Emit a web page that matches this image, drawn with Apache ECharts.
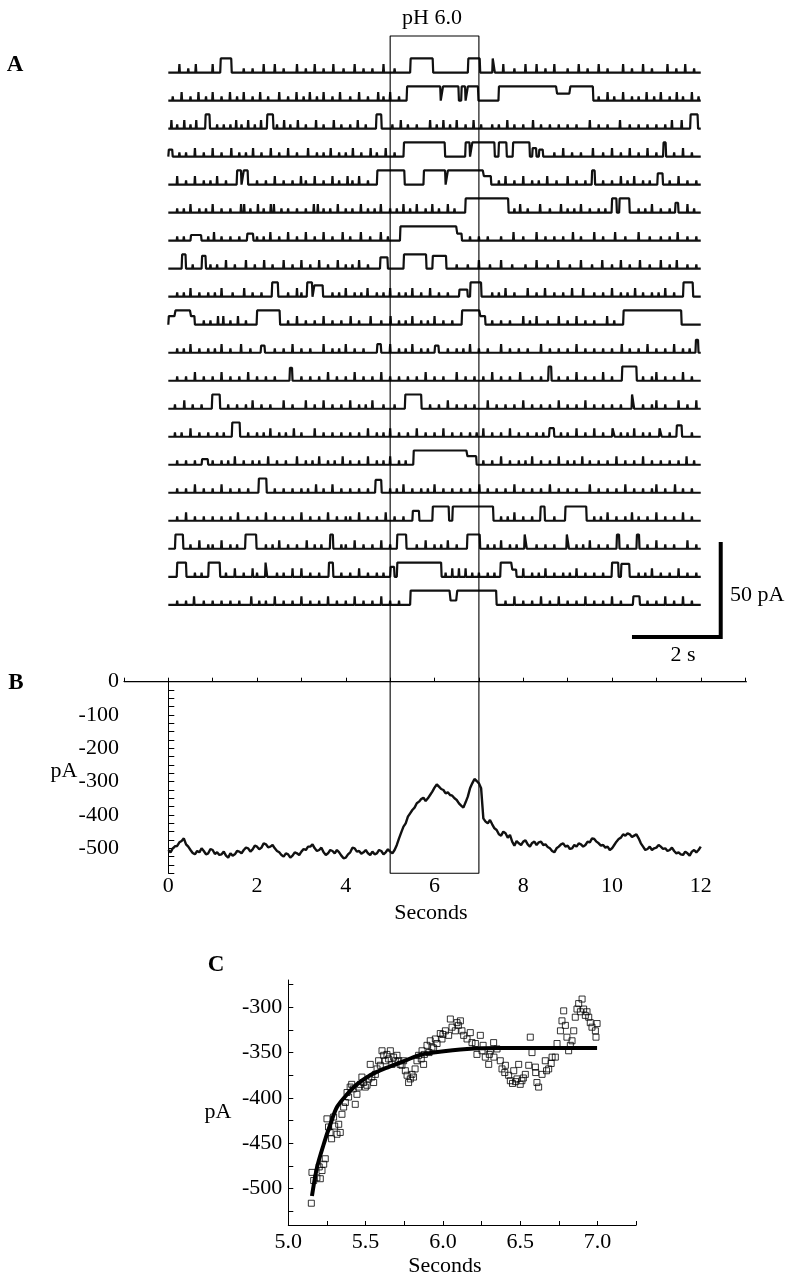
<!DOCTYPE html>
<html><head><meta charset="utf-8">
<script src="https://cdn.jsdelivr.net/npm/echarts@6/dist/echarts.min.js"></script>
<style>html,body{margin:0;padding:0;background:#fff}#c{width:793px;height:1280px}</style>
</head><body><div id="c"></div>
<script>
// ---------- Panel A: 20 single-channel sweeps ----------
// openings: [start (s), end (s), fraction of unitary current]
const sweepOpenings = [
  [[1.17,1.43,1],[5.45,5.97,1],[6.75,7.03,1],[7.3,7.36,1]],
  [[5.37,6.14,1],[6.18,6.55,1],[6.6,6.7,1],[6.74,6.99,1],[7.44,8.75,1],[8.75,9.05,0.5],[9.05,9.58,1]],
  [[0.83,0.94,1],[2.22,2.37,1],[4.68,4.81,1],[11.76,11.94,1]],
  [[0,0.1,0.5],[5.3,6.24,1],[6.69,6.8,1],[6.84,7.36,1],[7.44,7.63,1],[7.76,8.15,1],[8.2,8.3,0.6],[8.35,8.45,0.5],[11.15,11.22,1]],
  [[1.54,1.65,1],[1.69,1.8,1],[4.7,5.33,1],[5.75,6.25,1],[6.29,7.1,1],[7.1,7.28,0.6],[9.54,9.62,1],[11.02,11.15,0.8]],
  [[6.69,7.67,1],[9.99,10.11,1],[10.16,10.4,1],[11.42,11.5,0.7]],
  [[0.5,0.75,0.4],[1.77,1.92,0.5],[5.22,6.5,1],[6.5,6.62,0.5]],
  [[0.3,0.4,1],[0.75,0.85,0.9],[4.77,4.95,0.8],[5.3,5.82,1],[5.95,6.27,0.9]],
  [[2.33,2.48,1],[3.12,3.25,1],[3.28,3.49,0.8],[6.55,6.75,0.5],[6.8,7.06,1],[11.6,11.83,1]],
  [[0,0.15,0.6],[0.15,0.5,1],[0.5,0.6,0.6],[1.99,2.52,1],[6.61,7.02,1],[7.02,7.15,0.6],[10.25,11.57,1]],
  [[2.08,2.18,0.5],[4.7,4.8,0.6],[6.0,6.1,0.5],[11.88,11.95,0.9]],
  [[2.73,2.8,0.9],[8.56,8.64,1],[10.22,10.56,1]],
  [[0.98,1.17,1],[5.33,5.71,1],[10.44,10.5,1]],
  [[1.43,1.62,1],[8.58,8.7,0.6],[10.0,10.06,0.6],[11.06,11.12,0.6],[11.45,11.58,0.8]],
  [[0.75,0.9,0.4],[5.52,6.73,1],[6.73,6.95,0.6]],
  [[2.03,2.22,1],[4.66,4.81,0.9]],
  [[5.5,5.66,0.7],[5.95,6.33,1],[6.4,7.33,1],[8.38,8.49,1],[8.94,9.43,1]],
  [[0.15,0.34,1],[1.73,1.99,1],[3.64,3.72,1],[5.15,5.37,1],[6.73,7.03,1],[8.02,8.08,1],[8.97,9.03,1],[10.1,10.17,1],[10.55,10.62,1]],
  [[0.19,0.41,1],[0.9,1.17,1],[2.18,2.23,1],[3.61,3.72,1],[5.0,5.1,0.7],[5.15,6.16,1],[7.48,7.74,1],[7.74,7.85,0.5],[9.99,10.15,1],[10.2,10.4,0.9]],
  [[5.45,6.35,1],[6.35,6.5,0.3],[6.5,7.4,1],[10.47,10.63,0.6]]
];
// tall brief flickers (s)
const sweepSpikes = [
  [0.25,0.62,1.0,2.15,2.4,2.9,3.3,3.72,4.2,4.85,7.55,8.05,8.3,8.7,9.25,9.7,10.25,10.7,11.25,11.65],
  [0.3,0.68,1.0,1.39,1.7,2.07,2.5,2.89,3.19,3.5,3.87,4.3,4.73,5.0,9.9,10.25,10.78,11.1,11.46,11.8],
  [0.07,0.36,0.63,1.53,1.8,2.09,2.61,2.92,3.33,3.73,4.27,5.24,5.9,6.2,6.5,6.88,7.64,8.22,9.5,10.18,11.35,11.57],
  [0.6,1.0,1.42,1.91,2.31,2.7,3.15,3.66,4.16,4.56,4.9,8.9,9.57,10.0,10.4,10.8,11.6],
  [0.2,0.6,1.1,2.4,2.99,3.3,3.7,4.04,4.3,7.6,8.0,8.54,9.0,10.2,10.5,11.5],
  [0.5,1.0,1.64,1.71,2.02,2.31,2.38,3.28,3.37,3.82,4.34,4.79,5.3,5.6,5.95,6.3,7.93,8.38,8.85,9.3,10.9,11.7],
  [1.03,2.3,2.7,3.1,3.5,3.93,4.34,4.79,7.78,8.3,9.12,9.6,10.07,10.6,11.48],
  [1.3,1.75,2.16,2.6,3.0,3.4,3.82,4.3,7.0,7.5,8.3,8.79,9.3,9.78,10.2,10.63,11.1,11.46],
  [0.5,1.2,1.71,2.9,4.0,4.49,5.0,5.5,5.9,7.6,8.1,8.49,9.1,9.35,10.0,10.52,11.2],
  [1.12,1.24,1.57,2.9,3.5,4.11,4.56,5.01,5.5,6.0,8.0,8.3,8.8,9.2,9.89],
  [0.5,1.2,1.64,2.8,3.5,4.0,5.0,5.5,6.8,7.5,8.4,9.2,10.22,10.8,11.4],
  [0.6,1.2,1.8,3.6,4.2,4.8,5.8,6.5,7.3,7.93,9.2,9.8,11.0,11.6],
  [0.36,1.9,2.6,3.1,3.5,4.1,4.6,6.3,7.2,8.0,8.8,9.4,11.0,11.5,11.9],
  [0.5,2.3,2.83,3.3,4.5,5.0,5.6,6.2,7.1,7.7,9.2,9.6,10.5],
  [1.5,2.25,2.9,3.4,3.93,4.5,5.0,7.5,8.2,8.8,9.33,10.1,10.7,11.68],
  [0.6,1.2,3.33,3.7,5.3,6.0,7.01,7.8,8.6,9.5,10.3,11.0,11.42],
  [0.4,1.57,2.2,3.0,3.6,4.3,4.9,7.8,9.9,10.45,11.0,11.6],
  [0.7,1.2,2.5,3.12,4.2,4.8,5.8,6.3,7.5,9.5,11.0,11.7],
  [1.5,1.9,2.8,3.0,4.3,6.4,6.55,6.7,8.0,8.5,9.2,10.9,11.5],
  [0.58,1.87,2.4,3.0,3.6,4.2,4.8,7.8,8.4,8.8,9.4,10.0,11.2,11.6]
];
// small flickers (s)
const sweepFlickers = [
  [0.45,1.7,1.9,2.6,3.1,3.5,3.95,4.4,4.6,5.1,7.8,8.5,9.0,9.45,9.9,10.45,10.9,11.45,11.85],
  [0.1,0.5,0.85,1.2,1.55,1.9,2.25,2.7,3.05,3.35,3.7,4.1,4.5,4.85,5.2,9.7,10.05,10.45,10.6,10.95,11.3,11.6,11.95],
  [0.2,0.5,1.1,1.25,1.4,1.65,1.95,2.45,2.75,3.1,3.5,3.9,4.1,4.45,5.05,5.4,5.6,6.05,6.35,6.7,7.05,7.3,7.45,7.8,8.0,8.4,8.6,8.8,9.0,9.2,9.7,9.9,10.4,10.6,10.8,11.0,11.2],
  [0.25,0.4,0.8,1.2,1.6,1.75,2.1,2.5,2.9,3.35,3.5,3.85,4.0,4.35,4.7,5.1,8.7,9.1,9.3,9.8,10.2,10.6,11.0,11.4,11.8],
  [0.4,0.8,0.95,1.3,2.0,2.2,2.6,2.8,3.1,3.5,3.85,4.15,4.5,7.45,7.8,8.2,8.35,8.75,9.2,9.4,9.8,10.0,10.35,10.7,10.85,11.3,11.7,11.9],
  [0.2,0.35,0.7,0.85,1.2,1.4,1.85,2.15,2.55,2.7,2.9,3.1,3.5,3.65,4.0,4.15,4.5,4.65,5.0,5.15,5.45,5.8,6.1,6.45,7.8,8.1,8.6,9.0,9.15,9.5,9.7,9.85,10.6,10.75,11.1,11.3,11.85],
  [0.2,0.35,0.9,1.2,1.4,1.6,2.0,2.15,2.5,2.9,3.3,3.7,4.1,4.55,4.95,6.8,7.0,7.2,7.5,8.0,8.5,8.7,8.9,9.3,9.8,10.3,10.85,11.1,11.3,11.7,11.9],
  [0.55,0.95,1.1,1.5,1.95,2.35,2.8,3.2,3.6,4.0,4.15,4.5,6.5,6.75,7.25,7.75,8.05,8.55,9.05,9.55,10.0,10.4,10.85,11.3,11.7,11.9],
  [0.2,0.35,0.7,0.9,1.05,1.45,1.9,2.1,2.7,3.0,3.7,3.85,4.2,4.35,4.7,4.85,5.2,5.35,5.7,6.1,6.3,7.3,7.45,7.8,8.3,8.7,8.9,9.6,9.8,10.2,10.35,10.7,10.9,11.05,11.4],
  [0.8,0.95,1.4,1.75,2.7,3.1,3.3,3.7,3.9,4.3,4.8,5.2,5.35,5.7,5.85,6.2,6.4,7.3,7.5,7.7,8.15,8.55,9.0,9.4,9.6,10.05],
  [0.2,0.35,0.7,0.9,1.05,1.4,1.85,2.4,2.6,3.0,3.2,3.7,3.85,4.2,4.4,5.2,5.35,5.7,5.85,6.3,6.5,6.65,7.0,7.2,7.7,7.9,8.1,8.6,8.8,9.0,9.4,9.6,9.8,10.0,10.4,10.6,11.0,11.2,11.6,11.75],
  [0.2,0.4,0.8,1.0,1.4,1.6,2.0,2.2,2.4,3.0,3.2,3.4,3.8,4.0,4.4,4.6,5.0,5.2,5.4,5.6,6.0,6.2,6.7,6.9,7.1,7.5,7.7,8.2,8.4,8.8,9.0,9.4,9.6,10.0,10.7,10.9,11.2,11.4,11.8],
  [0.15,0.55,0.75,1.35,1.55,1.75,2.1,2.3,2.8,3.3,3.7,3.9,4.3,4.45,4.85,5.1,5.9,6.1,6.5,6.7,6.9,7.4,7.6,7.8,8.2,8.4,8.6,9.0,9.2,9.6,9.8,10.0,10.2,10.7,10.9,11.2,11.7],
  [0.15,0.3,0.7,0.9,1.1,1.25,1.8,2.0,2.15,2.5,2.65,3.0,3.5,3.7,3.9,4.1,4.3,4.7,4.85,5.2,5.4,5.8,6.0,6.4,6.6,6.8,6.95,7.3,7.5,7.9,8.1,8.3,8.45,8.85,9.0,9.4,9.8,10.2,10.35,10.7,10.85,11.3,11.8],
  [0.2,0.4,0.6,1.0,1.2,1.35,1.7,1.9,2.05,2.45,2.65,3.1,3.25,3.6,3.75,4.1,4.3,4.7,4.85,5.2,5.35,7.1,7.3,7.7,7.9,8.05,8.4,8.6,9.0,9.15,9.5,9.7,9.9,10.3,10.5,10.9,11.1,11.3,11.5,11.85],
  [0.2,0.4,0.8,1.0,1.4,1.6,1.8,2.4,2.6,2.8,3.0,3.15,3.5,3.9,4.1,4.3,4.5,5.0,5.15,5.5,5.7,5.85,6.2,6.4,6.6,6.8,7.2,7.4,7.6,8.0,8.2,8.4,8.8,9.0,9.2,9.7,9.9,10.1,10.5,10.7,10.9,11.2,11.6,11.8],
  [0.2,0.6,0.8,1.0,1.2,1.4,1.8,2.0,2.4,2.6,2.8,3.2,3.4,3.8,4.0,4.1,4.5,4.7,5.1,5.3,7.5,7.65,8.0,8.2,8.7,9.6,9.75,10.1,10.3,10.6,10.8,11.2,11.4,11.8],
  [0.5,0.9,1.0,1.4,1.55,2.2,2.35,2.7,2.9,3.3,3.45,3.9,4.0,4.4,4.6,5.0,5.6,6.0,6.15,6.5,7.2,7.35,7.7,7.85,8.3,8.5,8.7,9.2,9.35,9.7,9.9,10.35,10.8,11.2,11.4,11.9],
  [0.6,0.75,1.3,1.7,2.0,2.45,2.6,3.2,3.4,3.9,4.1,4.5,4.7,4.85,6.25,6.85,7.0,7.2,7.35,8.2,8.35,8.7,8.9,9.05,9.4,9.6,9.8,10.6,10.75,11.1,11.3,11.7,11.9],
  [0.2,0.4,0.8,1.0,1.2,1.4,1.6,2.05,2.2,2.6,2.8,3.2,3.4,3.8,4.0,4.4,4.6,5.0,5.2,7.6,8.0,8.2,8.6,9.0,9.2,9.6,9.8,10.2,10.8,11.0,11.4,11.8]
];
const unitaryCurrent = 7.5;     // pA
const spikeFraction = 0.6, flickerFraction = 0.3;
const sweepDuration = 12;       // s
const pulseStart = 5, pulseEnd = 7; // pH 6.0 application (s)
const scaleBarPA = 50, scaleBarS = 2;

// ---------- Panel B: ensemble current, sampled every 0.05 s from 0 to 12 s ----------
const ensembleStep = 0.05;
const ensembleCurrent = [
 -505,-512,-500,-494,-493,-482,-478,-470,-488,-495,-505,-514,-518,-508,-512,-500,-508,-518,-515,-502,
 -505,-517,-512,-520,-518,-510,-522,-528,-515,-522,-518,-508,-510,-515,-505,-498,-500,-510,-503,-492,
 -495,-503,-498,-485,-488,-497,-495,-490,-500,-508,-512,-520,-525,-515,-518,-528,-522,-512,-515,-520,
 -510,-502,-505,-495,-495,-488,-500,-508,-505,-498,-512,-520,-515,-505,-508,-515,-505,-512,-522,-530,
 -528,-518,-512,-498,-500,-510,-508,-516,-512,-505,-515,-520,-510,-518,-515,-505,-508,-518,-512,-503,
 -510,-515,-505,-490,-470,-452,-435,-425,-405,-395,-385,-378,-365,-360,-352,-348,-358,-350,-340,-330,
 -318,-308,-315,-322,-325,-335,-332,-340,-342,-350,-355,-365,-372,-378,-362,-345,-320,-305,-292,-298,
 -305,-320,-410,-420,-425,-415,-428,-440,-445,-458,-462,-450,-455,-468,-460,-480,-492,-478,-485,-490,
 -480,-476,-488,-495,-484,-480,-490,-482,-480,-490,-488,-496,-500,-508,-512,-500,-495,-488,-485,-495,
 -492,-502,-500,-490,-495,-485,-488,-495,-490,-480,-482,-470,-472,-480,-485,-492,-490,-498,-495,-505,
 -500,-490,-480,-472,-468,-458,-462,-455,-458,-466,-462,-458,-470,-485,-495,-505,-502,-495,-505,-500,
 -498,-490,-495,-502,-500,-508,-505,-498,-508,-515,-512,-518,-520,-510,-515,-522,-510,-505,-512,-505,
 -495];

// ---------- Panel C: onset of current with exponential fit ----------
const scatterTime = [5.149,5.153,5.164,5.185,5.2,5.207,5.218,5.229,5.239,5.25,5.26,5.27,5.28,5.293,5.30,5.315,5.326,5.336,5.347,5.358,5.369,5.38,5.39,5.40,5.41,5.42,5.433,5.444,5.455,5.466,5.476,5.487,5.498,5.509,5.52,5.53,5.54,5.552,5.563,5.574,5.584,5.595,5.606,5.617,5.627,5.638,5.649,5.66,5.67,5.681,5.692,5.703,5.714,5.724,5.735,5.746,5.757,5.768,5.778,5.789,5.80,5.81,5.82,5.832,5.843,5.86,5.865,5.875,5.88,5.897,5.91,5.918,5.929,5.94,5.951,5.962,5.983,5.994,6.0,6.016,6.037,6.048,6.059,6.08,6.091,6.1,6.113,6.123,6.134,6.156,6.177,6.188,6.21,6.22,6.242,6.253,6.26,6.274,6.296,6.3,6.307,6.328,6.33,6.35,6.371,6.382,6.4,6.404,6.425,6.436,6.45,6.458,6.47,6.479,6.49,6.5,6.511,6.52,6.533,6.555,6.565,6.576,6.598,6.6,6.608,6.619,6.641,6.662,6.67,6.684,6.7,6.706,6.727,6.738,6.76,6.77,6.781,6.792,6.802,6.813,6.824,6.835,6.846,6.856,6.867,6.878,6.889,6.9,6.91,6.921,6.932,6.943,6.953,6.964,6.986,6.99,6.997];
const scatterCurrent = [-516,-482,-491,-488,-476,-489,-480,-473,-467,-423,-432,-438,-445,-421,-431,-440,-429,-438,-418,-410,-405,-394,-399,-388,-385,-390,-407,-396,-388,-385,-377,-383,-388,-386,-379,-363,-377,-383,-374,-368,-359,-364,-348,-353,-359,-352,-357,-348,-363,-355,-359,-353,-359,-363,-364,-359,-370,-375,-383,-379,-374,-377,-368,-359,-353,-357,-348,-363,-352,-342,-350,-337,-344,-345,-335,-340,-329,-335,-330,-326,-331,-313,-322,-326,-317,-320,-315,-326,-331,-335,-328,-339,-340,-352,-331,-348,-342,-355,-363,-352,-348,-339,-355,-346,-359,-368,-372,-364,-375,-381,-384,-370,-382,-379,-363,-385,-381,-378,-374,-364,-333,-350,-366,-372,-383,-388,-374,-359,-370,-368,-362,-355,-355,-340,-326,-315,-304,-320,-333,-348,-342,-337,-326,-311,-302,-296,-305,-291,-302,-309,-305,-311,-317,-322,-326,-333,-318];
const fitTime = [5.153,5.185,5.229,5.272,5.315,5.38,5.444,5.53,5.617,5.724,5.843,5.94,6.156,6.371,6.997];
const fitCurrent = [-508,-477,-451,-429,-410,-396,-385,-375,-368,-361,-353,-350,-346,-345,-345];

// ---------- layout constants ----------
const sweepTopBase = 320.7, sweepSpacing = 14.74; // pA (panel A vertical offsets)
const SERIF = '"Liberation Serif", "Times New Roman", serif';
const BLACK = '#000';

function buildSweep(i) {
  const base = sweepTopBase - i * sweepSpacing;
  const opens = sweepOpenings[i].slice().sort((a, b) => a[0] - b[0]);
  const pts = [[0, base], [sweepDuration, base]];
  const d = 0.012;
  opens.forEach((o, k) => {
    const prevEnd = k > 0 ? opens[k - 1][1] : -9;
    const nextStart = k < opens.length - 1 ? opens[k + 1][0] : 99;
    const lvl = base + o[2] * unitaryCurrent;
    if (Math.abs(prevEnd - o[0]) > 0.011) pts.push([o[0], base]);
    pts.push([o[0] + d, lvl]);
    pts.push([o[1] - d, lvl]);
    if (Math.abs(nextStart - o[1]) > 0.011) pts.push([o[1], base]);
  });
  const used = [];
  function addSpike(t, frac) {
    if (opens.some(o => t > o[0] - 0.03 && t < o[1] + 0.03)) return;
    if (used.some(u => Math.abs(u - t) < 0.03)) return;
    used.push(t);
    pts.push([t - 0.011, base]);
    pts.push([t, base + frac * unitaryCurrent]);
    pts.push([t + 0.011, base]);
  }
  sweepSpikes[i].forEach(t => addSpike(t, spikeFraction));
  sweepFlickers[i].forEach(t => addSpike(t, flickerFraction));
  pts.sort((a, b) => a[0] - b[0]);
  return pts;
}

const series = [];
for (let i = 0; i < sweepOpenings.length; i++) {
  series.push({type: 'line', xAxisIndex: 0, yAxisIndex: 0, data: buildSweep(i), symbol: 'none',
    lineStyle: {color: '#111', width: 2.2}, silent: true});
}
// pH box in panel A
series.push({type: 'line', xAxisIndex: 0, yAxisIndex: 0, clip: false, symbol: 'none',
  data: [[pulseStart, 0], [pulseStart, 340], [pulseEnd, 340], [pulseEnd, 0]],
  lineStyle: {color: BLACK, width: 1.1}});
// scale bars
series.push({type: 'line', xAxisIndex: 0, yAxisIndex: 0, clip: false, symbol: 'none',
  data: [[12.45 - scaleBarS, 23.7], [12.45, 23.7], [12.45, 23.7 + scaleBarPA]],
  lineStyle: {color: BLACK, width: 4, join: 'miter', cap: 'butt'}});
// panel B box continuation and zero line
series.push({type: 'line', xAxisIndex: 1, yAxisIndex: 1, clip: false, symbol: 'none',
  data: [[pulseStart, 0], [pulseStart, -575], [pulseEnd, -575], [pulseEnd, 0]],
  lineStyle: {color: BLACK, width: 1.1}});
series.push({type: 'line', xAxisIndex: 1, yAxisIndex: 1, clip: false, symbol: 'none',
  data: [[-1, 0], [13.18, 0]], lineStyle: {color: BLACK, width: 1.1}});
series.push({type: 'line', xAxisIndex: 1, yAxisIndex: 1, symbol: 'none',
  data: ensembleCurrent.map((v, k) => [+(k * ensembleStep).toFixed(2), v]),
  lineStyle: {color: '#111', width: 2.4}});
// panel C
series.push({type: 'scatter', xAxisIndex: 2, yAxisIndex: 2, symbol: 'rect', symbolSize: 6,
  data: scatterTime.map((t, k) => [t, scatterCurrent[k]]),
  itemStyle: {color: 'rgba(255,255,255,0)', borderColor: BLACK, borderWidth: 1}, z: 2});
series.push({type: 'line', xAxisIndex: 2, yAxisIndex: 2, symbol: 'none', smooth: 0.3, z: 3,
  data: fitTime.map((t, k) => [t, fitCurrent[k]]),
  lineStyle: {color: BLACK, width: 4}});

const axisFont = {fontFamily: SERIF, fontSize: 22, color: BLACK};
function txt(text, x, y, opts) {
  return Object.assign({type: 'text', x: x, y: y, style: Object.assign({text: text, font: '22px ' + SERIF, fill: BLACK,
    textAlign: 'center', textVerticalAlign: 'middle', align: 'center', verticalAlign: 'middle'}, opts || {})});
}

const option = {
  animation: false,
  backgroundColor: '#fff',
  grid: [
    {left: 123.93, width: 621.2, top: 36, height: 646},
    {left: 123.93, width: 621.2, top: 681.7, height: 191.6},
    {left: 288.3, width: 347.9, top: 980, height: 245}
  ],
  xAxis: [
    {gridIndex: 0, type: 'value', min: -1, max: 13, show: false},
    {gridIndex: 1, type: 'value', min: -1, max: 13, interval: 1,
      axisLine: {lineStyle: {color: BLACK, width: 1}}, axisTick: {inside: true, length: 4, lineStyle: {color: BLACK}},
      splitLine: {show: false},
      axisLabel: Object.assign({margin: 2, formatter: v => (v >= 0 && v <= 12 && v % 2 === 0) ? String(v) : ''}, axisFont)},
    {gridIndex: 2, type: 'value', min: 5, max: 7.25, interval: 0.25,
      axisLine: {lineStyle: {color: BLACK, width: 1}}, axisTick: {inside: true, length: 4, lineStyle: {color: BLACK}},
      splitLine: {show: false},
      axisLabel: Object.assign({margin: 6, formatter: v => (Math.abs(v * 2 - Math.round(v * 2)) < 1e-6 && v <= 7.001) ? v.toFixed(1) : ''}, axisFont)}
  ],
  yAxis: [
    {gridIndex: 0, type: 'value', min: 0, max: 340, show: false},
    {gridIndex: 1, type: 'value', min: -575, max: 0, interval: 25,
      axisLine: {show: true, lineStyle: {color: BLACK, width: 1}}, axisTick: {show: true, inside: true, length: 6, lineStyle: {color: BLACK}},
      splitLine: {show: false},
      axisLabel: Object.assign({margin: 5, formatter: v => (v % 100 === 0) ? String(v) : ''}, axisFont)},
    {gridIndex: 2, type: 'value', min: -540, max: -270,
      axisLine: {show: true, lineStyle: {color: BLACK, width: 1}},
      axisTick: {show: true, inside: true, length: 5, lineStyle: {color: BLACK},
        customValues: [-525,-500,-475,-450,-425,-400,-375,-350,-325,-300,-275]},
      splitLine: {show: false},
      axisLabel: Object.assign({margin: 6, customValues: [-500,-450,-400,-350,-300]}, axisFont)}
  ],
  series: series,
  graphic: [
    txt('A', 15, 65, {font: 'bold 23px ' + SERIF}),
    txt('pH 6.0', 432, 18),
    txt('50 pA', 730, 595, {textAlign: 'left', align: 'left'}),
    txt('2 s', 683, 655),
    txt('B', 16, 683, {font: 'bold 23px ' + SERIF}),
    txt('pA', 64, 771),
    txt('Seconds', 431, 913),
    txt('C', 216, 965, {font: 'bold 23px ' + SERIF}),
    txt('pA', 218, 1112),
    txt('Seconds', 445, 1266)
  ]
};
const chart = echarts.init(document.getElementById('c'), null, {renderer: 'canvas', width: 793, height: 1280});
chart.setOption(option);
</script></body></html>
